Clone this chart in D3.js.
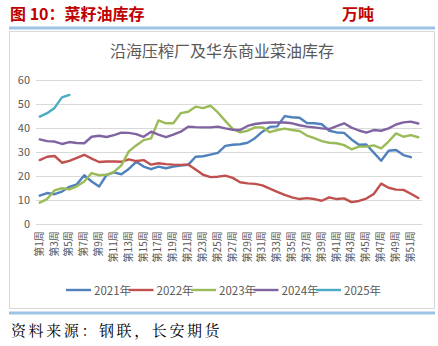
<!DOCTYPE html>
<html><head><meta charset="utf-8">
<script src="https://cdn.jsdelivr.net/npm/d3@7"></script>
<style>
html,body{margin:0;padding:0;background:#fff;}
svg{display:block;}
</style></head>
<body>
<svg id="c" width="438" height="346"></svg>
<script>
const weeks = d3.range(1, 53);
const tickWeeks = d3.range(1, 53, 2);
const yTicks = [0, 10, 20, 30, 40, 50, 60];
const seriesNames = ["2021年", "2022年", "2023年", "2024年", "2025年"];
const seriesColors = ["#4F81BD", "#C0504D", "#9BBB59", "#8064A2", "#4BACC6"];

const s2021 = [11.9, 13.0, 12.5, 13.6, 15.6, 16.6, 20.4, 17.8, 15.7, 20.5, 21.6, 20.8, 23.0,
  26.0, 24.0, 22.9, 24.0, 23.3, 24.0, 24.4, 24.7, 28.1, 28.3, 29.0, 29.7, 32.6,
  33.1, 33.3, 33.9, 35.8, 38.5, 40.5, 40.7, 45.0, 44.5, 44.3, 42.1, 42.0,
  41.6, 38.9, 38.2, 38.0, 35.3, 33.1, 33.2, 29.8, 26.4, 30.6, 30.9, 28.8, 27.9];
const s2022 = [26.7, 28.1, 28.4, 25.6, 26.4, 27.6, 28.9, 27.3, 25.9, 26.1, 26.1, 26.0, 27.0,
  26.3, 26.7, 24.8, 25.4, 25.0, 24.8, 24.7, 24.9, 22.8, 20.6, 19.6, 19.8, 20.2,
  19.3, 17.5, 17.0, 16.8, 16.2, 14.8, 13.5, 12.2, 11.2, 10.5, 10.9, 10.5,
  9.8, 11.2, 10.5, 10.8, 9.2, 9.7, 10.7, 12.6, 16.9, 15.2, 14.4, 14.3, 12.7, 10.9];
const s2023 = [9.0, 10.5, 14.1, 15.0, 14.5, 15.8, 17.8, 21.3, 20.4, 20.6, 21.8, 24.5, 30.3,
  32.8, 35.0, 35.7, 43.2, 42.0, 42.0, 46.2, 46.8, 48.9, 48.3, 49.3, 46.5, 43.0,
  39.7, 38.2, 38.9, 40.3, 40.3, 38.3, 39.2, 39.8, 39.2, 38.8, 36.9, 35.8,
  34.6, 33.9, 33.7, 32.9, 31.2, 32.3, 32.3, 32.8, 31.6, 34.4, 37.8, 36.4, 37.1, 36.2];
const s2024 = [35.3, 34.6, 34.4, 33.4, 34.2, 33.8, 33.7, 36.4, 36.8, 36.3, 37.1, 38.1, 38.0,
  37.5, 36.4, 38.5, 37.3, 36.2, 37.3, 38.5, 40.6, 40.4, 40.3, 40.3, 40.6, 39.9,
  39.3, 39.2, 40.9, 41.7, 42.1, 42.3, 42.4, 42.3, 42.0, 41.2, 40.6, 40.3,
  39.9, 39.6, 40.8, 42.0, 40.2, 39.0, 38.1, 39.2, 38.9, 39.9, 41.5, 42.4, 42.7, 41.9];
const s2025 = [44.8, 46.2, 48.4, 52.8, 53.8];
const seriesValues = [s2021, s2022, s2023, s2024, s2025];

const svg = d3.select("#c");
const FONT = "'Noto Sans CJK SC','Noto Sans',sans-serif";

// Header
svg.append("text").attr("x", 10).attr("y", 20)
  .attr("font-family", FONT).attr("font-weight", "bold").attr("font-size", 16)
  .attr("fill", "#C00000").text("图 10：菜籽油库存");
svg.append("text").attr("x", 342).attr("y", 20)
  .attr("font-family", FONT).attr("font-weight", "bold").attr("font-size", 16)
  .attr("fill", "#C00000").text("万吨");
svg.append("rect").attr("x", 9).attr("y", 26.5).attr("width", 426).attr("height", 3).attr("fill", "#9DC3E6");
svg.append("rect").attr("x", 9.5).attr("y", 31.5).attr("width", 425).attr("height", 277)
  .attr("fill", "#fff").attr("stroke", "#D9D9D9").attr("stroke-width", 1);
svg.append("rect").attr("x", 9).attr("y", 311.5).attr("width", 426).attr("height", 3).attr("fill", "#9DC3E6");
svg.append("text").attr("x", 11).attr("y", 336)
  .attr("font-family", "'Noto Serif CJK SC','Noto Sans CJK SC',serif").attr("font-size", 15)
  .attr("letter-spacing", 2.6).attr("fill", "#000").text("资料来源：钢联，长安期货");

// Chart title
svg.append("text").attr("x", 222).attr("y", 57).attr("text-anchor", "middle")
  .attr("font-family", FONT).attr("font-size", 16).attr("fill", "#595959")
  .text("沿海压榨厂及华东商业菜油库存");

const x = d3.scaleBand().domain(weeks).range([36, 422]).padding(0);
const y = d3.scaleLinear().domain([0, 60]).range([224.3, 80]);
const cx = w => x(w) + x.bandwidth() / 2;

// Gridlines
svg.append("g").selectAll("line").data(yTicks).join("line")
  .attr("x1", 36).attr("x2", 422)
  .attr("y1", d => Math.round(y(d)) + 0.5).attr("y2", d => Math.round(y(d)) + 0.5)
  .attr("stroke", "#D9D9D9").attr("stroke-width", 1.2);

// Y axis
const yAxis = svg.append("g").attr("transform", "translate(36,0)")
  .call(d3.axisLeft(y).tickValues(yTicks).tickSize(0).tickPadding(6));
yAxis.select(".domain").remove();
yAxis.selectAll("text").attr("font-family", FONT).attr("font-size", 11).attr("fill", "#595959");

// X axis
const xAxis = svg.append("g").attr("transform", "translate(0,224.3)")
  .call(d3.axisBottom(x).tickValues(tickWeeks).tickFormat(d => "第" + d + "周").tickSize(0));
xAxis.select(".domain").remove();
xAxis.selectAll("text")
  .attr("font-family", FONT).attr("font-size", 10).attr("fill", "#595959")
  .attr("text-anchor", "end").attr("dy", null)
  .attr("transform", "translate(-1.5,7) rotate(-90)")
  .attr("x", 0).attr("y", 0).attr("dominant-baseline", "central");

// Lines
const line = d3.line().x((d, i) => cx(weeks[i])).y(d => y(d));
seriesValues.forEach((vals, k) => {
  svg.append("path").datum(vals).attr("d", line)
    .attr("fill", "none").attr("stroke", seriesColors[k]).attr("stroke-width", 2.4)
    .attr("stroke-linejoin", "round").attr("stroke-linecap", "round");
});

// Legend
const legX = [66, 128.5, 191, 253.5, 316];
const leg = svg.append("g");
seriesNames.forEach((n, k) => {
  leg.append("line").attr("x1", legX[k]).attr("x2", legX[k] + 25).attr("y1", 290).attr("y2", 290)
    .attr("stroke", seriesColors[k]).attr("stroke-width", 2.4);
  leg.append("text").attr("x", legX[k] + 28).attr("y", 294.5)
    .attr("font-family", FONT).attr("font-size", 11.5).attr("fill", "#595959").text(n);
});
</script>
</body></html>
